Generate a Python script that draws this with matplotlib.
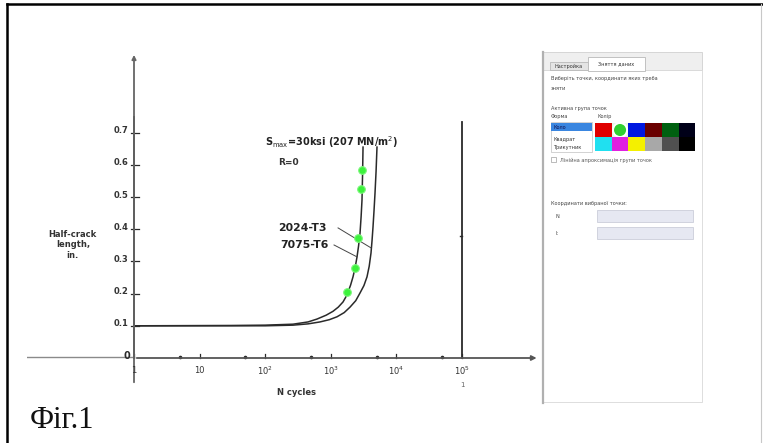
import numpy as np
import matplotlib
matplotlib.use("Agg")
import matplotlib.pyplot as plt
from matplotlib.patches import Rectangle, Circle

# ============================================================
# Дані (N - цикли, a - півдовжина тріщини, in.)
# ============================================================
n_7075 = [1, 30, 100, 265, 450, 617, 850, 1080, 1300, 1535, 1680, 1830, 2000,
          2180, 2350, 2510, 2650, 2790, 2900, 2990, 3050, 3100]
a_7075 = [0.100, 0.101, 0.102, 0.105, 0.112, 0.121, 0.133, 0.145, 0.158, 0.174,
          0.188, 0.205, 0.226, 0.252, 0.281, 0.314, 0.348, 0.388, 0.440, 0.491,
          0.570, 0.655]

n_2024 = [1, 100, 265, 450, 684, 950, 1244, 1600, 1963, 2400, 2790, 3200, 3563,
          3850, 4100, 4250, 4400, 4560, 4720, 4900, 5060]
a_2024 = [0.100, 0.100, 0.102, 0.106, 0.112, 0.119, 0.128, 0.141, 0.158, 0.178,
          0.202, 0.225, 0.252, 0.285, 0.326, 0.364, 0.407, 0.458, 0.512, 0.580,
          0.655]

# зелені точки, нанесені користувачем
pts_n = [1770, 2340, 2600, 2880, 2990]
pts_a = [0.205, 0.280, 0.373, 0.525, 0.584]

x_ticks = [1, 10, 100, 1e3, 1e4, 1e5]
x_labels = ["1", "10", r"$10^2$", r"$10^3$", r"$10^4$", r"$10^5$"]
x_minor = [5, 50, 500, 5e3, 5e4]
y_ticks = [0.1, 0.2, 0.3, 0.4, 0.5, 0.6, 0.7]
y_labels = ["0.1", "0.2", "0.3", "0.4", "0.5", "0.6", "0.7"]

# кольори палітри в панелі
swatch_row1 = ["#e00000", None, "#0018e0", "#6a0000", "#006010", "#000018"]
swatch_row2 = ["#20e0f0", "#e020e0", "#f4f000", "#a8a8a8", "#505050", "#000000"]

W, H = 763, 443
fig = plt.figure(figsize=(W / 100, H / 100), dpi=100)
fig.patch.set_facecolor("white")

# осі графіка: 1 декада ~ 65.6 px, 0.1 in ~ 32.2 px
px_l, px_r, py_t, py_b = 27, 545, 40, 405
ax = fig.add_axes([px_l / W, 1 - py_b / H, (px_r - px_l) / W, (py_b - py_t) / H])
ax.set_xscale("log")
ax.set_xlim(10 ** ((px_l - 134) / 65.6), 10 ** ((px_r - 134) / 65.6))
ax.set_ylim((358 - py_b) / 322, (358 - py_t) / 322)
ax.axis("off")

ink = "#2a2a2a"
# вісь X
ax.plot([ax.get_xlim()[0], 1], [0.003, 0.003], color="#8a8a8a", lw=1.0)
ax.annotate("", xy=(10 ** 6.18, 0), xytext=(1, 0),
            arrowprops=dict(arrowstyle="-|>", color="#555555", lw=1.3,
                            mutation_scale=7))
# вісь Y
ax.annotate("", xy=(1, 0.95), xytext=(1, -0.084),
            arrowprops=dict(arrowstyle="-|>", color="#666666", lw=1.3,
                            mutation_scale=6))
ax.plot([1, 1], [0, 0.75], color=ink, lw=1.4)

# вертикальна лінія на 10^5
ax.plot([1e5, 1e5], [0, 0.733], color=ink, lw=1.3)
ax.plot([0.93e5, 1e5], [0.379, 0.379], color=ink, lw=1.0)

# поділки
for xt, xl in zip(x_ticks, x_labels):
    ax.plot([xt, xt], [0, 0.012], color=ink, lw=0.9)
    ax.text(xt, -0.04, xl, ha="center", va="center", fontsize=6,
            color="#333333")
for xm in x_minor:
    ax.plot([xm], [0.004], marker="o", ms=1.6, color=ink)
for yt, yl in zip(y_ticks, y_labels):
    ax.plot([0.9, 1.2], [yt, yt], color=ink, lw=0.9)
    ax.text(0.82, yt + 0.006, yl, ha="right", va="center", fontsize=6,
            color="#333333", fontweight="bold")
ax.text(0.88, 0.006, "0", ha="right", va="center", fontsize=7, color=ink,
        fontweight="bold")
ax.text(1e5, -0.083, "1", ha="center", va="center", fontsize=5,
        color="#666666")

# криві
ax.plot(n_7075, a_7075, color=ink, lw=1.1)
ax.plot(n_2024, a_2024, color=ink, lw=1.1)
ax.plot(pts_n, pts_a, "o", ms=5.5, color="#3cf23c", mec="#7cf77c", mew=0.8,
        zorder=5, ls="none")

# підписи
ax.text(0.117, 0.351, "Half-crack\nlength,\nin.", ha="center", va="center",
        fontsize=6, fontweight="bold", color="#333333", linespacing=1.25)
ax.text(300, -0.106, "N cycles", ha="center", va="center", fontsize=6,
        fontweight="bold", color="#333333")
ax.text(99, 0.671, r"S$_{\rm max}$=30ksi (207 MN/m$^2$)", ha="left",
        va="center", fontsize=7, fontweight="bold", color="#222222")
ax.text(157, 0.606, "R=0", ha="left", va="center", fontsize=6.5,
        fontweight="bold", color="#333333")
ax.text(157, 0.404, "2024-T3", ha="left", va="center", fontsize=7.8,
        fontweight="bold", color="#222222")
ax.text(168, 0.351, "7075-T6", ha="left", va="center", fontsize=7.8,
        fontweight="bold", color="#222222")
ax.plot([1290, 4100], [0.404, 0.342], color="#444444", lw=0.7)
ax.plot([1120, 2510], [0.351, 0.314], color="#444444", lw=0.7)

# ============================================================
# Рамка, підпис рисунка та панель програми (у пікселях)
# ============================================================
ui = fig.add_axes([0, 0, 1, 1])
ui.set_xlim(0, W)
ui.set_ylim(H, 0)
ui.axis("off")

ui.plot([7, 7], [4, H], color="black", lw=1.8)
ui.plot([7, 762], [4, 4], color="black", lw=1.8)
ui.plot([761, 761], [4, H], color="#c8c8c8", lw=0.8)

fig.text(30 / W, 1 - 420 / H, "Фіг.1", fontsize=22, family="Liberation Serif",
         va="center", ha="left", color="#111111")

# панель
ui.add_patch(Rectangle((542, 52), 160, 18, fc="#efefef", ec="#d0d0d0", lw=0.6))
ui.add_patch(Rectangle((542, 70), 160, 332, fc="white", ec="#d8d8d8", lw=0.6))
ui.plot([543, 543], [52, 403], color="#b0b0b0", lw=1.6)
ui.add_patch(Rectangle((550, 62), 38, 8, fc="#e4e4e4", ec="#b8b8b8", lw=0.6))
ui.add_patch(Rectangle((588, 57), 57, 14, fc="white", ec="#b8b8b8", lw=0.6))
ui.text(569, 66, "Настройка", fontsize=3.6, ha="center", va="center",
        color="#333333")
ui.text(616, 64, "Зняття даних", fontsize=3.6, ha="center", va="center",
        color="#333333")
ui.text(551, 78, "Виберіть точки, координати яких треба", fontsize=3.6,
        va="center", color="#444444")
ui.text(551, 88, "зняти", fontsize=3.6, va="center", color="#444444")
ui.text(551, 108, "Активна група точок", fontsize=3.6, va="center",
        color="#444444")
ui.text(551, 116, "Форма", fontsize=3.6, va="center", color="#444444")
ui.text(598, 116, "Колір", fontsize=3.6, va="center", color="#444444")

ui.add_patch(Rectangle((551, 122), 41, 30, fc="white", ec="#c0c0c0", lw=0.5))
ui.add_patch(Rectangle((551, 123), 41, 8, fc="#3a86e0", ec="none"))
ui.text(553, 127, "Коло", fontsize=3.6, va="center", color="#101050")
ui.text(553, 139, "Квадрат", fontsize=3.6, va="center", color="#333333")
ui.text(553, 147, "Трикутник", fontsize=3.6, va="center", color="#333333")

sw = 16.7
for i, c in enumerate(swatch_row1):
    x0 = 595 + i * sw
    if c is None:
        ui.add_patch(Rectangle((x0, 123), sw, 14, fc="#e8f8e8", ec="none"))
        ui.add_patch(Circle((x0 + sw / 2, 130), 7, fc="#30d030",
                            ec="white", lw=1.4))
    else:
        ui.add_patch(Rectangle((x0, 123), sw, 14, fc=c, ec="none"))
for i, c in enumerate(swatch_row2):
    ui.add_patch(Rectangle((595 + i * sw, 137), sw, 14, fc=c, ec="none"))

ui.add_patch(Rectangle((551, 157), 5, 5, fc="white", ec="#a0a0a0", lw=0.5))
ui.text(560, 160, "Лінійна апроксимація групи точок", fontsize=3.6,
        va="center", color="#555555")

ui.text(551, 203, "Координати вибраної точки:", fontsize=3.6, va="center",
        color="#444444")
ui.text(555, 216, "N:", fontsize=3.6, va="center", color="#444444")
ui.text(556, 233, "l:", fontsize=3.6, va="center", color="#444444")
ui.add_patch(Rectangle((597, 210), 96, 12, fc="#e6e8f2", ec="#c4c6d4", lw=0.5))
ui.add_patch(Rectangle((597, 227), 96, 12, fc="#e6e8f2", ec="#c4c6d4", lw=0.5))

fig.savefig("out.png", dpi=100, facecolor="white")
